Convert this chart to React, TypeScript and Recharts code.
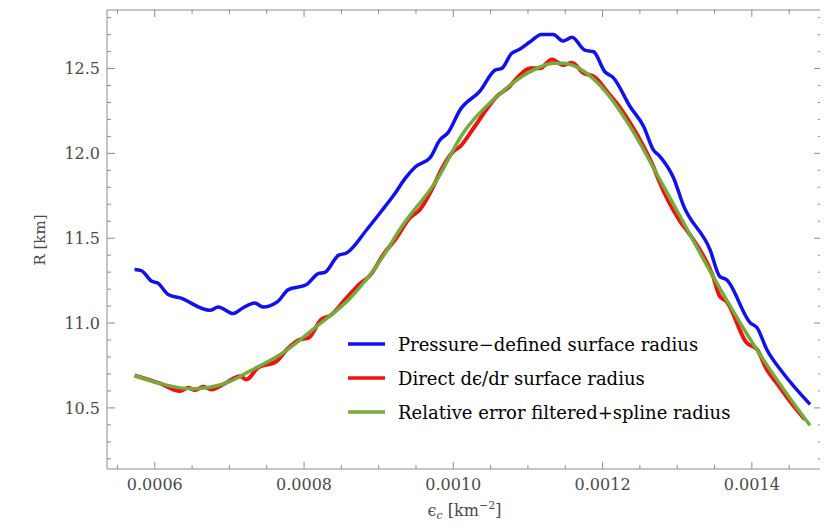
import { LineChart, Line, XAxis, YAxis, ReferenceLine } from 'recharts';

// central energy density (km^-2) and radius (km)
const pressureEps = [
  0.000573, 0.000582, 0.000596, 0.000604, 0.000618, 0.000634, 0.000674, 0.000685, 0.000705, 0.000718,
  0.000734, 0.000745, 0.000765, 0.000779, 0.000803, 0.000819, 0.000828, 0.000846, 0.000857, 0.000884,
  0.000902, 0.000922, 0.000935, 0.000949, 0.000969, 0.000982, 0.000993, 0.001009, 0.001036, 0.001056,
  0.001065, 0.001078, 0.001087, 0.001103, 0.001118, 0.001134, 0.001147, 0.001159, 0.001176, 0.001188,
  0.001203, 0.001214, 0.001237, 0.001255, 0.001268, 0.001277, 0.001295, 0.001308, 0.001344, 0.001357,
  0.001366, 0.001398, 0.001407, 0.00142, 0.00144, 0.001478,
];
const pressureR = [
  11.315, 11.309, 11.246, 11.236, 11.168, 11.148, 11.075, 11.095, 11.056, 11.089,
  11.119, 11.094, 11.128, 11.197, 11.226, 11.291, 11.299, 11.399, 11.413, 11.55,
  11.65, 11.765, 11.85, 11.92, 11.975, 12.079, 12.122, 12.256, 12.369, 12.491,
  12.501, 12.589, 12.609, 12.658, 12.701, 12.701, 12.662, 12.684, 12.609, 12.599,
  12.481, 12.448, 12.275, 12.158, 12.021, 11.981, 11.856, 11.697, 11.432, 11.275,
  11.256, 11.001, 10.972, 10.844, 10.716, 10.521,
];

const directEps = [
  0.000573, 0.000607, 0.000634, 0.000645, 0.000654, 0.000665, 0.000676, 0.000694, 0.000714, 0.000723,
  0.000738, 0.000763, 0.000777, 0.000794, 0.000806, 0.000823, 0.000835, 0.000855, 0.000875, 0.000888,
  0.000908, 0.000922, 0.000942, 0.000955, 0.000971, 0.000986, 0.001, 0.001009, 0.001027, 0.001042,
  0.001058, 0.001076, 0.001087, 0.001103, 0.001116, 0.001132, 0.001147, 0.001159, 0.001174, 0.00119,
  0.001206, 0.001219, 0.001237, 0.001255, 0.001268, 0.001275, 0.001304, 0.001317, 0.001348, 0.001357,
  0.001366, 0.001393, 0.001407, 0.00142, 0.001433, 0.001456, 0.001471,
];
const directR = [
  10.691, 10.644, 10.599, 10.619, 10.605, 10.625, 10.609, 10.644, 10.687, 10.668,
  10.736, 10.775, 10.844, 10.903, 10.913, 11.021, 11.044, 11.138, 11.232, 11.279,
  11.415, 11.491, 11.621, 11.668, 11.785, 11.922, 12.011, 12.04, 12.148, 12.244,
  12.334, 12.397, 12.452, 12.501, 12.501, 12.554, 12.521, 12.534, 12.475, 12.448,
  12.364, 12.295, 12.178, 12.04, 11.922, 11.844, 11.599, 11.521, 11.275, 11.158,
  11.128, 10.884, 10.844, 10.726, 10.648, 10.511, 10.432,
];

const splineEps = [
  0.000573, 0.000607, 0.000647, 0.000674, 0.000701, 0.000727, 0.000772, 0.000817, 0.000862, 0.000906,
  0.000928, 0.000978, 0.001013, 0.001058, 0.001103, 0.001134, 0.001147, 0.001174, 0.001206, 0.001237,
  0.001277, 0.001304, 0.001348, 0.001398, 0.001462, 0.001478,
];
const splineR = [
  10.691, 10.644, 10.613, 10.622, 10.656, 10.716, 10.825, 10.981, 11.148, 11.393,
  11.55, 11.844, 12.119, 12.334, 12.481, 12.531, 12.531, 12.487, 12.354, 12.158,
  11.844, 11.628, 11.275, 10.903, 10.491, 10.397,
];

const xTicks = [
  0.00055, 0.0006, 0.00065, 0.0007, 0.00075, 0.0008, 0.00085, 0.0009, 0.00095, 0.001,
  0.00105, 0.0011, 0.00115, 0.0012, 0.00125, 0.0013, 0.00135, 0.0014, 0.00145,
];
const yTicks = [
  10.2, 10.3, 10.4, 10.5, 10.6, 10.7, 10.8, 10.9, 11.0, 11.1, 11.2, 11.3, 11.4,
  11.5, 11.6, 11.7, 11.8, 11.9, 12.0, 12.1, 12.2, 12.3, 12.4, 12.5, 12.6, 12.7, 12.8,
];

const seriesNames = [
  'Pressure\u2212defined surface radius',
  'Direct d\u03f5/dr surface radius',
  'Relative error filtered+spline radius',
];
const seriesColors = ['#1010f0', '#f21010', '#72ad3c'];

const zip = (xs: number[], ys: number[]) => xs.map((e, i) => ({ e, r: ys[i] }));
const pressureData = zip(pressureEps, pressureR);
const directData = zip(directEps, directR);
const splineData = zip(splineEps, splineR);

const X_DOMAIN = [0.000536, 0.001494];
const Y_DOMAIN = [10.14, 12.845];
const FRAME = '#8c8c8c';
const LABEL = '#4a4a4a';
const FONT = '"DejaVu Serif", serif';

const isMajorX = (v: number) => Math.abs(v / 0.0002 - Math.round(v / 0.0002)) < 1e-6;
const isMajorY = (v: number) => Math.abs(v * 2 - Math.round(v * 2)) < 1e-6;

// inward tick lengths for the top/right frame, in data units
const topTickLen = (v: number) => (isMajorX(v) ? 0.041 : 0.024);
const rightTickLen = (v: number) => (isMajorY(v) ? 1.07e-5 : 5.4e-6);

// Mathematica-style ticks: marks point inward, labels outside
const BottomTick = ({ x, y, payload }: any) => {
  const major = isMajorX(payload.value);
  return (
    <g>
      <line x1={x} x2={x} y1={y} y2={y - (major ? 7 : 4)} stroke={FRAME} />
      {major && (
        <text x={x} y={y + 21} textAnchor="middle" fill={LABEL} fontSize={16} fontFamily={FONT}>
          {payload.value.toFixed(4)}
        </text>
      )}
    </g>
  );
};
const LeftTick = ({ x, y, payload }: any) => {
  const major = isMajorY(payload.value);
  return (
    <g>
      <line x1={x} x2={x + (major ? 8 : 4)} y1={y} y2={y} stroke={FRAME} />
      {major && (
        <text x={x - 7} y={y} dy="0.36em" textAnchor="end" fill={LABEL} fontSize={16} fontFamily={FONT}>
          {payload.value.toFixed(1)}
        </text>
      )}
    </g>
  );
};

const XTitle = ({ viewBox }: any) => (
  <text x={viewBox.x + viewBox.width / 2} y={508} textAnchor="middle" fill={LABEL} fontSize={16} fontFamily={FONT}>
    <tspan>{'\u03f5'}</tspan>
    <tspan fontStyle="italic" fontSize={11} dy={3}>c</tspan>
    <tspan dy={-3}>{' [km'}</tspan>
    <tspan fontSize={11} dy={-7}>{'\u22122'}</tspan>
    <tspan dy={7}>]</tspan>
  </text>
);
const YTitle = () => (
  <text x={37} y={232} transform="rotate(-90 37 232)" textAnchor="middle" fill={LABEL} fontSize={15} fontFamily={FONT}>
    R [km]
  </text>
);

export default function App() {
  return (
    <div style={{ position: 'relative', width: 820, height: 517 }}>
      <LineChart width={820} height={517} margin={{ top: 2, right: 6, bottom: 0, left: 0 }}>
        <XAxis
          dataKey="e"
          type="number"
          domain={X_DOMAIN}
          ticks={xTicks}
          interval={0}
          allowDataOverflow
          height={56}
          tickSize={0}
          tickMargin={0}
          tick={<BottomTick />}
          axisLine={{ stroke: FRAME }}
          tickLine={false}
          label={<XTitle />}
        />
        <YAxis
          type="number"
          domain={Y_DOMAIN}
          ticks={yTicks}
          interval={0}
          allowDataOverflow
          width={99}
          tickSize={0}
          tickMargin={0}
          tick={<LeftTick />}
          axisLine={{ stroke: FRAME }}
          tickLine={false}
          label={<YTitle />}
        />
        {/* top and right sides of the frame, with their inward ticks */}
        <ReferenceLine y={Y_DOMAIN[1]} stroke={FRAME} ifOverflow="visible" />
        <ReferenceLine x={X_DOMAIN[1]} stroke={FRAME} ifOverflow="visible" />
        {xTicks.map((v) => (
          <ReferenceLine
            key={`top-${v}`}
            segment={[{ x: v, y: Y_DOMAIN[1] }, { x: v, y: Y_DOMAIN[1] - topTickLen(v) }]}
            stroke={FRAME}
            ifOverflow="visible"
          />
        ))}
        {yTicks.map((v) => (
          <ReferenceLine
            key={`right-${v}`}
            segment={[{ x: X_DOMAIN[1], y: v }, { x: X_DOMAIN[1] - rightTickLen(v), y: v }]}
            stroke={FRAME}
            ifOverflow="visible"
          />
        ))}
        <Line data={pressureData} dataKey="r" type="monotone" stroke={seriesColors[0]} strokeWidth={3.5} dot={false} isAnimationActive={false} />
        <Line data={directData} dataKey="r" type="monotone" stroke={seriesColors[1]} strokeWidth={4} dot={false} isAnimationActive={false} />
        <Line data={splineData} dataKey="r" type="monotone" stroke={seriesColors[2]} strokeWidth={3.5} dot={false} isAnimationActive={false} />
      </LineChart>
      <div style={{ position: 'absolute', left: 340, top: 319, fontFamily: FONT, fontSize: 18, color: '#000' }}>
        {seriesNames.map((name, i) => (
          <div key={name} style={{ display: 'flex', alignItems: 'center', height: 34, whiteSpace: 'nowrap' }}>
            <svg width={37} height={6}>
              <line x1={0} x2={37} y1={3} y2={3} stroke={seriesColors[i]} strokeWidth={3.5} />
            </svg>
            <span style={{ marginLeft: 13 }}>{name}</span>
          </div>
        ))}
      </div>
    </div>
  );
}
